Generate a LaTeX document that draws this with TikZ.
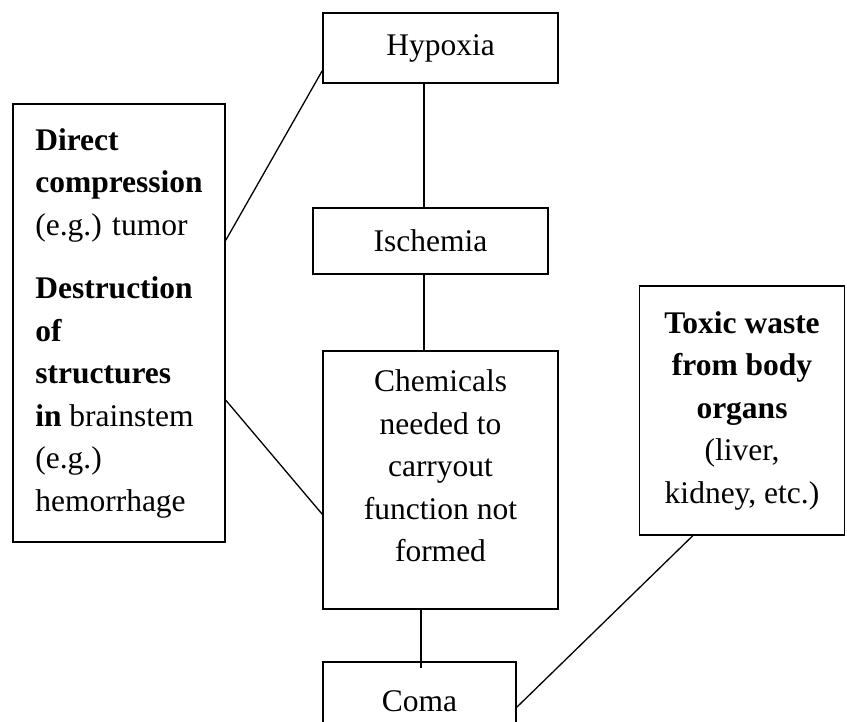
\documentclass[tikz,border=0pt]{standalone}
\usepackage{fontspec}
\setmainfont{Liberation Serif}
\usetikzlibrary{calc}

\begin{document}
\begin{tikzpicture}[x=1pt,y=-1pt,
  box/.style={draw,line width=1.6pt,inner sep=8pt,
    font=\fontsize{31.5}{42.5}\selectfont},
  link/.style={line width=1.3pt}]
\useasboundingbox (0,0) rectangle (847,722);
\clip (0,0) rectangle (847,722);
\node[box,minimum width=235pt,minimum height=70pt] (hyp) at (440.5,48) {Hypoxia};
\node[box,minimum width=235pt,minimum height=66pt] (isc) at (430.5,241) {Ischemia};
\node[box,align=center,minimum width=235pt,minimum height=258pt] (chem) at (440.5,480)
  {Chemicals\\needed to\\carryout\\function not\\formed\\[-14pt]\mbox{}};
\node[box,minimum width=193pt,minimum height=78pt] (coma) at (419.5,701) {Coma};
\node[box,align=left,minimum width=212pt,minimum height=438pt] (cause) at (119,323)
  {\textbf{Direct}\\\textbf{compression}\\(e.g.) tumor\\[21pt]
   \textbf{Destruction}\\\textbf{of}\\\textbf{structures}\\\textbf{in} brainstem\\(e.g.)\\hemorrhage};
\node[box,align=center,minimum width=205pt,minimum height=249pt] (toxic) at (742,410.5)
  {\textbf{Toxic waste}\\\textbf{from body}\\\textbf{organs}\\(liver,\\kidney, etc.)};
\draw[link]([xshift=-16.5pt]hyp.south)--([xshift=-16.5pt]hyp.south |- isc.north);
\draw[link]([xshift=-6.5pt]isc.south)--([xshift=-6.5pt]isc.south |- chem.north);
\draw[link]([xshift=-19.5pt]chem.south)--([xshift=-19.5pt,yshift=-7pt]chem.south |- coma.north);
\draw[link]([yshift=-137pt]cause.north east)--([yshift=13pt]hyp.south west);
\draw[link]([yshift=-297pt]cause.north east)--([yshift=-164pt]chem.north west);
\draw[link]([yshift=-46pt]coma.north east)--([xshift=54pt]toxic.south west);
\end{tikzpicture}
\end{document}
